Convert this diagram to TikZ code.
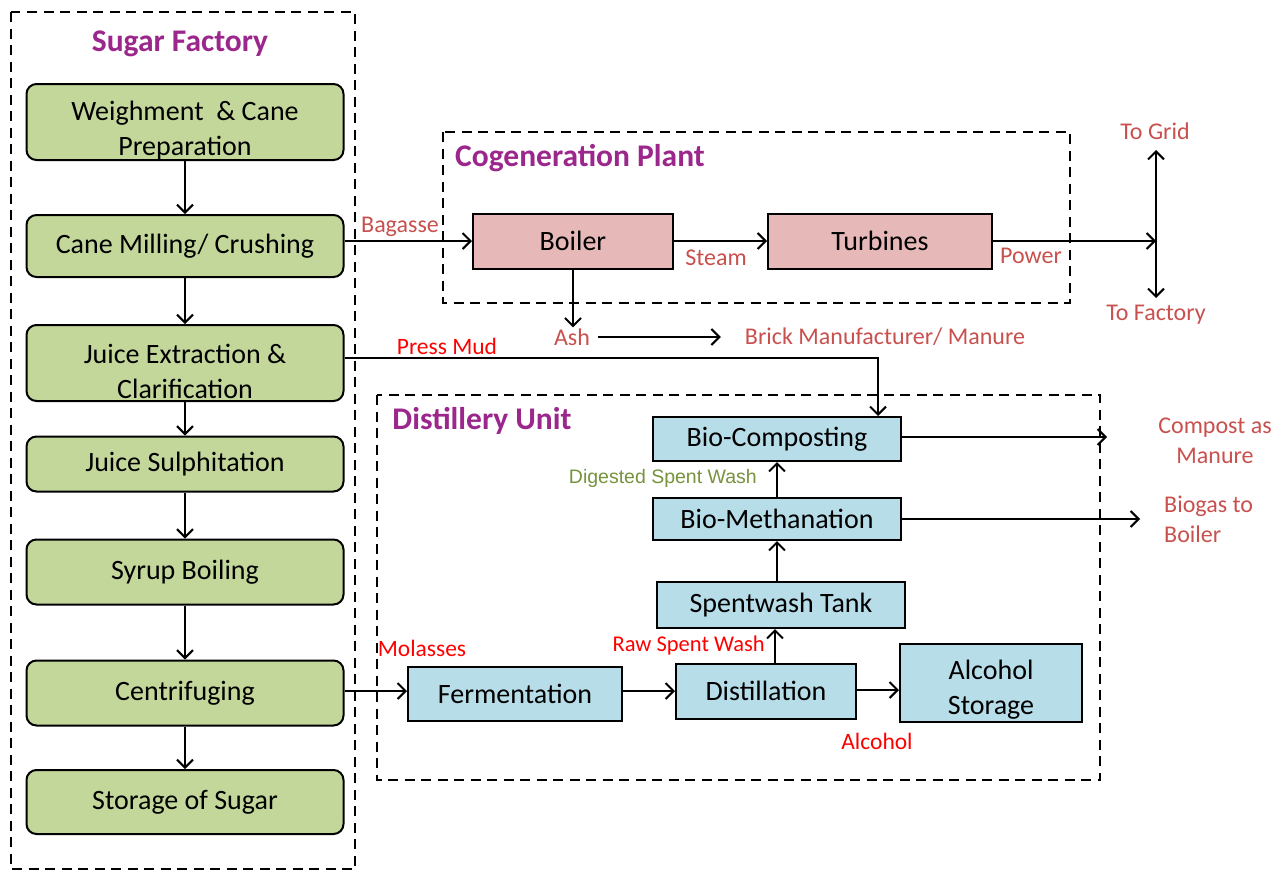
\documentclass[tikz,border=0pt]{standalone}
\usepackage{fontspec}
\setmainfont{Carlito}
\newfontfamily\arialf{Liberation Sans}
\usetikzlibrary{arrows.meta}
\definecolor{gfill}{RGB}{196,215,155}
\definecolor{pfill}{RGB}{230,185,184}
\definecolor{bfill}{RGB}{183,221,232}
\definecolor{ttl}{RGB}{155,38,140}
\definecolor{lred}{RGB}{200,80,77}
\definecolor{bred}{RGB}{255,0,0}
\definecolor{olive}{RGB}{118,146,60}
\tikzset{
  boxbase/.style={draw, line width=2pt, inner sep=0pt, align=center, font=\fontsize{28}{35}\selectfont},
  gbox/.style={boxbase, rounded corners=10pt, fill=gfill, minimum width=317pt},
  pbox/.style={boxbase, fill=pfill},
  bbox/.style={boxbase, fill=bfill},
  dbox/.style={draw, line width=2pt, dash pattern=on 10pt off 6.5pt},
  ttlstyle/.style={text=ttl, font=\bfseries\fontsize{31.5}{34}\selectfont},
  lab/.style={text=lred, inner sep=1pt, font=\fontsize{24}{30}\selectfont},
  rlab/.style={text=bred, inner sep=1pt, font=\fontsize{23.5}{26}\selectfont},
  arr/.style={line width=2pt, -{Straight Barb[length=8pt,width=16pt]}},
}
\begin{document}
\begin{tikzpicture}[x=1pt,y=-1pt]
\useasboundingbox (0,0) rectangle (1288,871);
% frames
\draw[dbox] (11,12) rectangle (355,869);
\draw[dbox] (443,132) rectangle (1070,303);
\draw[dbox] (377,395) rectangle (1100,780);
% titles
\node[ttlstyle] (tsf) at (180,44) {Sugar Factory};
\node[ttlstyle] (tcg) at (580,158) {Cogeneration Plant};
\node[ttlstyle] (tdu) at (482,421) {Distillery Unit};
% sugar factory
\node[gbox, minimum height=76pt] (wc) at (185,122) {\rule{0pt}{36pt}Weighment \ \& Cane\\Preparation};
\node[gbox, minimum height=62pt] (cm) at (185,246) {Cane Milling/ Crushing};
\node[gbox, minimum height=76pt] (je) at (185,363) {\rule{0pt}{36pt}Juice Extraction \&\\Clarification};
\node[gbox, minimum height=55pt] (js) at (185,464) {Juice Sulphitation};
\node[gbox, minimum height=65pt] (sb) at (185,572) {Syrup Boiling};
\node[gbox, minimum height=65pt] (cf) at (185,693) {Centrifuging};
\node[gbox, minimum height=64pt] (ss) at (185,802) {Storage of Sugar};
\draw[arr] (wc) -- (cm);
\draw[arr] (cm) -- (je);
\draw[arr] (je) -- (js);
\draw[arr] (js) -- (sb);
\draw[arr] (sb) -- (cf);
\draw[arr] (cf) -- (ss);
% cogeneration
\node[pbox, minimum width=200pt, minimum height=55pt] (boiler) at (573,241) {Boiler};
\node[pbox, minimum width=224pt, minimum height=55pt] (tur) at (880,241) {Turbines};
\draw[arr] (cm.east |- boiler.west) -- (boiler.west);
\node[lab] (lbag) at (400,227) {Bagasse};
\draw[arr] (boiler.east) -- (tur.west);
\node[lab] (lsteam) at (716,258) {Steam};
\coordinate (pj) at (1156,241);
\coordinate (grid) at (1156,150);
\coordinate (fact) at (1156,298);
\draw[arr] (tur.east) -- (pj);
\draw[line width=2pt, {Straight Barb[length=8pt,width=16pt]}-{Straight Barb[length=8pt,width=16pt]}] (grid) -- (fact);
\node[lab] (lpow) at (1031,256) {Power};
\node[lab] (lgrid) at (1155,131) {To Grid};
\node[lab] (lfact) at (1156,315) {To Factory};
\node[lab] (ash) at (572,337) {Ash};
\node[lab] (brick) at (885,337) {Brick Manufacturer/ Manure};
\draw[arr] (boiler.south) -- (boiler.south |- ash.north);
\draw[arr] ([xshift=7pt]ash.east) -- ([xshift=-23pt]brick.west);
% distillery
\node[bbox, minimum width=248pt, minimum height=44pt] (bc) at (777,439) {Bio-Composting};
\node[bbox, minimum width=248pt, minimum height=42pt] (bm) at (777,519) {Bio-Methanation};
\node[bbox, minimum width=248pt, minimum height=46pt] (st) at (781,605) {Spentwash Tank};
\node[bbox, minimum width=214pt, minimum height=54pt] (fer) at (515,694) {Fermentation};
\node[bbox, minimum width=180pt, minimum height=55pt] (dis) at (766,691) {Distillation};
\node[bbox, minimum width=182pt, minimum height=78pt] (als) at (991,683) {\rule{0pt}{32pt}Alcohol\\Storage};
% press mud
\coordinate (pm) at (878,358);
\draw[arr] ([yshift=5pt]je.east) -- (pm) -- (pm |- bc.north);
\node[rlab] (lpm) at (447,346) {Press Mud};
% distillery flows
\draw[arr] (cf.east |- 0,691) -- (fer.west |- 0,691);
\node[rlab] (lmol) at (422,648) {Molasses};
\draw[arr] (fer.east |- 0,691) -- (dis.west |- 0,691);
\draw[arr] (dis.east |- 0,690) -- (als.west |- 0,690);
\node[rlab] (lalc) at (877,741) {Alcohol};
\draw[arr] ([xshift=9pt]dis.north) -- ([xshift=9pt]dis.north |- st.south);
\node[rlab, anchor=east, font=\fontsize{22.5}{26}\selectfont] (lraw) at (766,645) {Raw Spent Wash};
\draw[arr] (st.north -| bm.south) -- (bm.south);
\draw[arr] (bm.north) -- (bc.south);
\node[text=olive, inner sep=1pt, anchor=east, font=\arialf\fontsize{19.5}{22}\selectfont] (ldig) at (758,478) {Digested Spent Wash};
\coordinate (ce) at (1107,437);
\draw[arr] (bc.east |- ce) -- (ce);
\node[lab, align=center] (lcomp) at (1215,441) {Compost as\\Manure};
\coordinate (be) at (1140,519);
\draw[arr] (bm.east |- be) -- (be);
\node[lab, align=left, anchor=west] (lbio) at (1163,519) {Biogas to\\Boiler};
\end{tikzpicture}
\end{document}
